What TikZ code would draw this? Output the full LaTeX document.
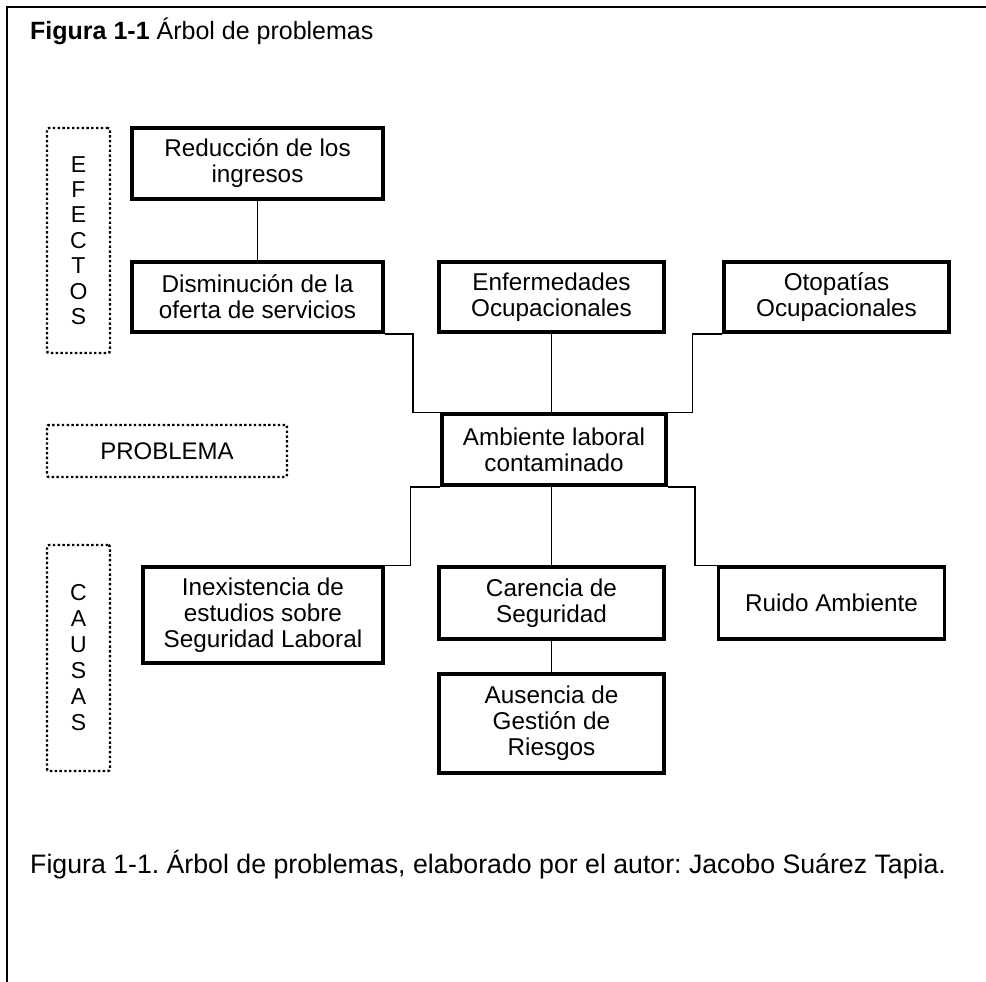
\documentclass[tikz,border=0pt]{standalone}
\usepackage{fontspec}
\setmainfont{Liberation Sans}
\frenchspacing
\begin{document}
\begin{tikzpicture}[x=1pt,y=-1pt,
  box/.style={draw, line width=3.6pt, align=center, inner sep=0pt, font=\fontsize{24.3}{26}\selectfont},
  tag/.style={draw, line width=2.4pt, dash pattern=on 2.4pt off 2.4pt, rounded corners=2pt, align=center, inner sep=0pt},
  link/.style={line width=1.4pt},
  frame/.style={line width=2.2pt}]
\useasboundingbox (0,0) rectangle (986,982);
\coordinate (fbl) at (7,982);
\coordinate (ftl) at (7,7);
\coordinate (ftr) at (986,7);
\draw[frame] (fbl) -- (ftl) -- (ftr);

\node[anchor=base west, inner sep=0pt, font=\fontsize{25}{30}\selectfont] (title) at (30,40) {\textbf{Figura 1-1} Árbol de problemas};
\node[anchor=base west, inner sep=0pt, font=\fontsize{26.7}{30}\selectfont] (cap) at (30,873) {Figura 1-1. Árbol de problemas, elaborado por el autor: Jacobo Suárez Tapia.};

% side tags
\node[tag, minimum width=63pt, minimum height=225pt, font=\fontsize{23}{25.4}\selectfont] (efe) at (78.5,240.5) {E\\F\\E\\C\\T\\O\\S};
\node[tag, minimum width=240pt, minimum height=52pt, font=\fontsize{24}{26}\selectfont] (pro) at (167,451) {PROBLEMA};
\node[tag, minimum width=63pt, minimum height=226pt, font=\fontsize{23}{26}\selectfont] (cau) at (78.5,658) {C\\A\\U\\S\\A\\S};

% effects
\node[box, minimum width=251pt, minimum height=71pt] (red) at (257.5,163.5) {Reducción de los\\ingresos};
\node[box, minimum width=251pt, minimum height=70pt] (dis) at (257.5,297) {Disminución de la\\oferta de servicios};
\node[box, minimum width=225pt, minimum height=70pt] (enf) at (551.5,297) {Enfermedades\\Ocupacionales};
\node[box, minimum width=225pt, minimum height=70pt] (oto) at (836.5,297) {Otopatías\\Ocupacionales};

% problem
\node[box, minimum width=224pt, minimum height=71pt] (amb) at (554,449.5) {Ambiente laboral\\contaminado};

% causes
\node[box, minimum width=240pt, minimum height=96pt] (inx) at (263,615) {Inexistencia de\\estudios sobre\\Seguridad Laboral};
\node[box, minimum width=225pt, minimum height=72pt] (car) at (551.5,603) {Carencia de\\Seguridad};
\node[box, minimum width=226pt, minimum height=72pt] (rui) at (831.5,603) {Ruido Ambiente};
\node[box, minimum width=225pt, minimum height=99pt] (aus) at (551.5,723.5) {Ausencia de\\Gestión de\\Riesgos};

% connectors
\draw[link] (red.south) -- (dis.north);
\draw[link] (dis.south east) -- ++(28,0) |- (amb.north west);
\draw[link] (enf.south) -- (enf.south |- amb.north);
\draw[link] (oto.south west) -- ++(-30,0) |- (amb.north east);
\draw[link] (amb.south west) -- ++(-30,0) |- (inx.north east);
\draw[link] (car.north |- amb.south) -- (car.north);
\draw[link] (amb.south east) -- ++(27,0) |- (rui.north west);
\draw[link] (car.south) -- (aus.north);
\end{tikzpicture}
\end{document}
